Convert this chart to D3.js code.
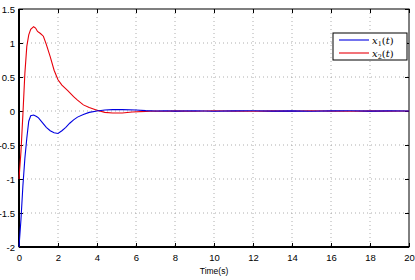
<!DOCTYPE html>
<html><head><meta charset="utf-8">
<script src="https://cdn.jsdelivr.net/npm/d3@7"></script>
<style>body{margin:0;background:#fff}svg{display:block}</style>
</head><body>
<svg id="c" width="415" height="280"></svg>
<script>
const xTicks=[0,2,4,6,8,10,12,14,16,18,20];
const yTicks=[-2,-1.5,-1,-0.5,0,0.5,1,1.5];
const yTickLabels=["-2","-1.5","-1","-0.5","0","0.5","1","1.5"];
const seriesNames=["x1","x2"];
const tX1=[0,0.1,0.2,0.3,0.4,0.5,0.6,0.75,0.9,1.0,1.2,1.4,1.6,1.8,2.0,2.2,2.4,2.6,2.8,3.0,3.3,3.6,4.0,4.4,4.8,5.3,6.0,6.5,7.0,7.5,8,9,10,11,12,13,14,15,16,17,18,19,20];
const vX1=[-2,-1.6,-1.1,-0.7,-0.4,-0.15,-0.07,-0.06,-0.08,-0.1,-0.17,-0.24,-0.29,-0.32,-0.33,-0.29,-0.24,-0.18,-0.13,-0.09,-0.05,-0.02,0.0,0.015,0.02,0.02,0.015,0.005,0,0.003,-0.002,0.003,-0.003,0.002,0.003,-0.002,0.002,-0.003,0.002,0.003,-0.002,0.002,0];
const tX2=[0,0.1,0.2,0.3,0.4,0.5,0.6,0.75,0.85,0.95,1.1,1.25,1.4,1.6,1.8,2.0,2.2,2.5,2.8,3.0,3.3,3.6,4.0,4.4,4.8,5.3,5.8,6.5,7,7.5,8,9,10,11,12,13,14,15,16,17,18,19,20];
const vX2=[-1,-0.6,-0.05,0.55,0.95,1.12,1.2,1.24,1.22,1.17,1.14,1.1,0.98,0.8,0.6,0.46,0.38,0.3,0.21,0.16,0.09,0.05,0.01,-0.02,-0.03,-0.03,-0.015,-0.005,0,-0.003,0.002,-0.003,0.003,-0.002,-0.003,0.002,-0.002,0.003,-0.002,-0.003,0.002,-0.002,0];

const svg=d3.select("#c");
const L=19,R=409,T=9,B=247;
const x=d3.scaleLinear().domain([0,20]).range([L,R]);
const y=d3.scaleLinear().domain([-2,1.5]).range([B,T]);

// grid
const g=svg.append("g");
g.selectAll(".gx").data(xTicks.slice(1,-1)).join("line")
 .attr("x1",d=>x(d)).attr("x2",d=>x(d)).attr("y1",T).attr("y2",B)
 .attr("stroke","#999").attr("stroke-width",0.8).attr("stroke-dasharray","1,3");
g.selectAll(".gy").data(yTicks.slice(1,-1)).join("line")
 .attr("y1",d=>y(d)).attr("y2",d=>y(d)).attr("x1",L).attr("x2",R)
 .attr("stroke","#999").attr("stroke-width",0.8).attr("stroke-dasharray","1,3");

// axes
const fs="Liberation Sans, Arial, sans-serif";
const ax=svg.append("g").attr("transform",`translate(0,${B})`).call(d3.axisBottom(x).tickValues(xTicks).tickSize(-4).tickPadding(7).tickFormat(d3.format("d")));
const ay=svg.append("g").attr("transform",`translate(${L},0)`).call(d3.axisLeft(y).tickValues(yTicks).tickSize(-4).tickPadding(4).tickFormat((d,i)=>yTickLabels[i]));
const at=svg.append("g").attr("transform",`translate(0,${T})`).call(d3.axisTop(x).tickValues(xTicks).tickSize(-4).tickFormat(""));
const ar=svg.append("g").attr("transform",`translate(${R},0)`).call(d3.axisRight(y).tickValues(yTicks).tickSize(-4).tickFormat(""));
[ax,ay,at,ar].forEach(a=>{a.select(".domain").remove();a.selectAll("line").attr("stroke","#000");a.selectAll("text").attr("font-family",fs).attr("font-size",9.5).attr("fill","#000");});
ay.selectAll("text").attr("dy","0.35em");

// box
svg.append("rect").attr("x",L).attr("y",T).attr("width",R-L).attr("height",B-T)
 .attr("fill","none").attr("stroke","#000").attr("stroke-width",1);
svg.append("line").attr("x1",L).attr("x2",R).attr("y1",B).attr("y2",B).attr("stroke","#000").attr("stroke-width",2);
svg.append("line").attr("x1",L).attr("x2",L).attr("y1",T).attr("y2",B).attr("stroke","#000").attr("stroke-width",2);

svg.append("text").attr("x",x(10)).attr("y",274).attr("text-anchor","middle")
 .attr("font-family",fs).attr("font-size",8.5).text("Time(s)");

// lines
const line=d3.line().x(d=>x(d[0])).y(d=>y(d[1]));
const d1=tX1.map((t,i)=>[t,vX1[i]]);
const d2=tX2.map((t,i)=>[t,vX2[i]]);
svg.append("path").datum(d2).attr("d",line).attr("fill","none").attr("stroke","#e8000b").attr("stroke-width",1.1);
svg.append("path").datum(d1).attr("d",line).attr("fill","none").attr("stroke","#0000e0").attr("stroke-width",1.1);

// legend
const lg=svg.append("g");
lg.append("rect").attr("x",333).attr("y",33).attr("width",74).attr("height",27).attr("fill","#fff").attr("stroke","#000").attr("stroke-width",1);
const cols=["#0000e0","#e8000b"];
seriesNames.forEach((n,i)=>{
  const yy=40+i*13;
  lg.append("line").attr("x1",339).attr("x2",369).attr("y1",yy).attr("y2",yy).attr("stroke",cols[i]).attr("stroke-width",1.1);
  const t=lg.append("text").attr("x",372).attr("y",yy+3.5).attr("font-family","DejaVu Serif, Liberation Serif, serif").attr("font-size",10);
  t.append("tspan").attr("font-style","italic").text("x");
  t.append("tspan").attr("font-size",6.5).attr("dy",2).text(String(i+1));
  t.append("tspan").attr("dy",-2).text("(");
  t.append("tspan").attr("font-style","italic").text("t");
  t.append("tspan").text(")");
});
</script>
</body></html>
